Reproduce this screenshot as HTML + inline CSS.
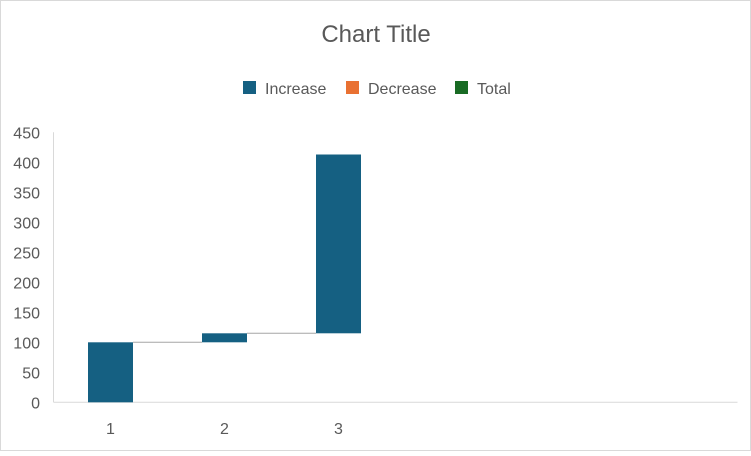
<!DOCTYPE html>
<html><head><meta charset="utf-8"><style>
body{margin:0;background:#fff;font-family:"Liberation Sans",sans-serif}
#wrap{position:relative;width:751px;height:451px}
</style></head><body>
<div id="wrap">
<svg id="chart" width="751" height="451">
<rect x="0.5" y="0.5" width="750" height="450" fill="#fff" stroke="#d9d9d9"/>
<text x="376" y="42" text-anchor="middle" font-size="24" fill="#595959">Chart Title</text>
<g font-size="16" fill="#595959">
<g><rect x="243" y="81" width="13" height="13" fill="#156082"/><text x="265" y="94">Increase</text></g>
<g><rect x="346" y="81" width="13" height="13" fill="#e97132"/><text x="368" y="94">Decrease</text></g>
<g><rect x="455" y="81" width="13" height="13" fill="#196b24"/><text x="477" y="94">Total</text></g>
</g>
<g id="plot"></g>
</svg>
</div>
<script>
const categories=["1","2","3"];
const increments=[100,15,298];
const yTicks=[0,50,100,150,200,250,300,350,400,450];
const NS="http://www.w3.org/2000/svg";
const plot=document.getElementById('plot');
const x0=53.5,slotW=114,y0=402.3,yMax=450,yTop=132.3,nSlots=6,barW=45;
function yS(v){return y0-(v/yMax)*(y0-yTop);}
function xC(i){return x0+slotW*(i+0.5);}
function mk(t,a){const e=document.createElementNS(NS,t);for(const k in a)e.setAttribute(k,a[k]);plot.appendChild(e);return e;}
yTicks.forEach(v=>{
const t=mk('text',{x:40,y:yS(v)+6,'text-anchor':'end','font-size':16,fill:'#595959'});
t.textContent=v;


});
const ax=mk('line',{x1:x0,y1:yTop,x2:x0,y2:y0,stroke:'#d9d9d9','stroke-width':1});


const bx=mk('line',{x1:x0,y1:y0,x2:x0+slotW*nSlots,y2:y0,stroke:'#d9d9d9','stroke-width':1});


let cum=0;
categories.forEach((c,i)=>{
const start=cum,end=cum+increments[i];cum=end;
const top=yS(Math.max(start,end)),bot=yS(Math.min(start,end));
const r=mk('rect',{x:xC(i)-barW/2,y:top,width:barW,height:Math.max(1,bot-top),fill:increments[i]>=0?'#156082':'#e97132'});


if(i<categories.length-1){
const l=mk('line',{x1:xC(i)+barW/2,y1:yS(end),x2:xC(i+1)-barW/2,y2:yS(end),stroke:'#a6a6a6','stroke-width':1});


}
const t=mk('text',{x:xC(i),y:434,'text-anchor':'middle','font-size':16,fill:'#595959'});
t.textContent=c;


});
</script>
</body></html>
